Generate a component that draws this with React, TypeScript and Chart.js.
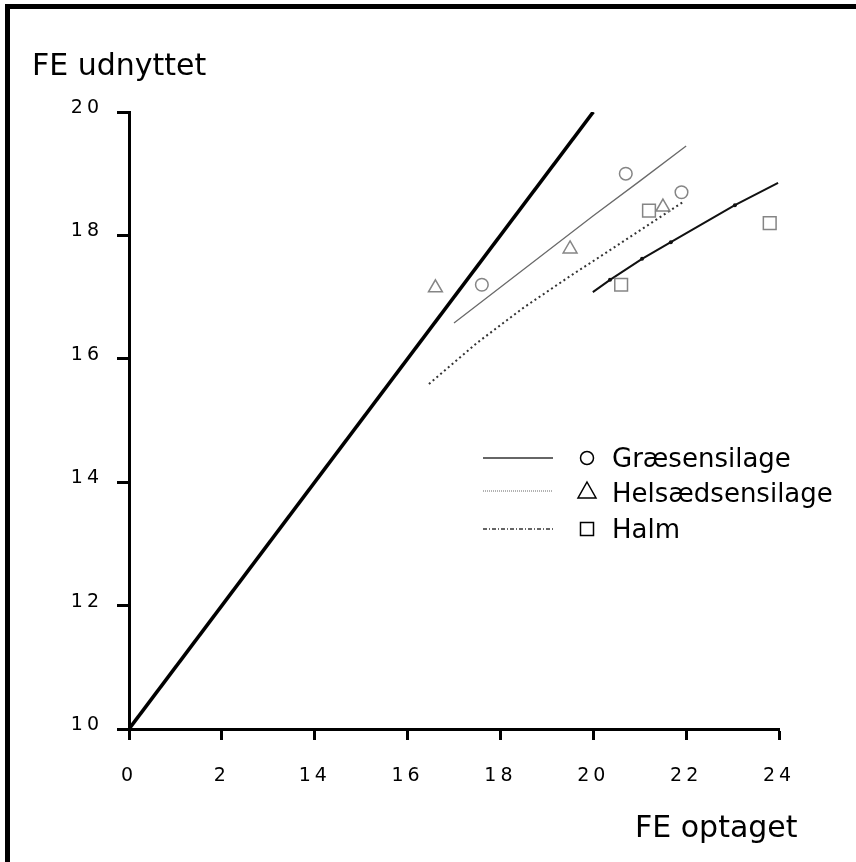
import React, { useEffect, useRef } from 'react';
import { Chart, registerables } from 'chart.js';

Chart.register(...registerables);

// ---- Data ----
const xTickValues = [10, 12, 14, 16, 18, 20, 22, 24];
const xTickLabels = ['0', '2', '14', '16', '18', '20', '22', '24'];
const yTickValues = [10, 12, 14, 16, 18, 20];
const yTickLabels = ['10', '12', '14', '16', '18', '20'];

const identityX = [10, 20];
const identityY = [10, 20];

const graesLineX = [17, 18, 19, 20, 21, 22];
const graesLineY = [16.58, 17.16, 17.74, 18.32, 18.88, 19.45];

const helsaedLineX = [16.46, 17.5, 18.5, 19.5, 20.5, 21.93];
const helsaedLineY = [15.59, 16.26, 16.83, 17.34, 17.83, 18.54];

const halmLineX = [19.99, 20.36, 21.05, 21.67, 23.05, 23.98];
const halmLineY = [17.08, 17.28, 17.62, 17.89, 18.49, 18.85];

const graesX = [17.6, 20.7, 21.9];
const graesY = [17.2, 19.0, 18.7];

const helsaedX = [16.6, 19.5, 21.5];
const helsaedY = [17.15, 17.78, 18.46];

const halmX = [20.6, 21.2, 23.8];
const halmY = [17.2, 18.4, 18.2];

const legendNames = ['Græsensilage', 'Helsædsensilage', 'Halm'];
const xTitle = 'FE optaget';
const yTitle = 'FE udnyttet';

const FONT = "'DejaVu Sans', sans-serif";

const pts = (xs: number[], ys: number[]) => xs.map((x, i) => ({ x, y: ys[i] }));

const spacingPlugin = {
  id: 'tickSpacing',
  beforeDraw(chart: any) {
    chart.ctx.letterSpacing = '4px';
  },
  beforeDatasetsDraw(chart: any) {
    chart.ctx.letterSpacing = '0px';
  },
};

const decorPlugin = {
  id: 'decor',
  afterDraw(chart: any) {
    const ctx: CanvasRenderingContext2D = chart.ctx;
    const area = chart.chartArea;
    ctx.save();
    (ctx as any).letterSpacing = '0px';
    // frame
    ctx.strokeStyle = '#000';
    ctx.lineWidth = 5;
    ctx.strokeRect(7.5, 6.5, 1000, 1000);

    // titles
    ctx.fillStyle = '#000';
    ctx.textBaseline = 'alphabetic';
    ctx.textAlign = 'left';
    ctx.font = `30px ${FONT}`;
    ctx.fillText(yTitle, 32, 75);
    ctx.fillText(xTitle, 635, 837);

    // legend
    const lx0 = area.left + 354;
    const lx1 = area.left + 424;
    const mx = area.left + 458;
    const tx = area.left + 483;
    const rows = [area.top + 346, area.top + 379, area.top + 417];
    const base = [area.top + 355, area.top + 390, area.top + 426];
    const dashes = [[], [1, 1], [4, 2, 1, 2]];
    const colors = ['#333', '#999', '#333'];
    rows.forEach((y, i) => {
      ctx.save();
      ctx.beginPath();
      ctx.setLineDash(dashes[i]);
      ctx.strokeStyle = colors[i];
      ctx.lineWidth = 1.5;
      ctx.moveTo(lx0, y);
      ctx.lineTo(lx1, y);
      ctx.stroke();
      ctx.restore();

      ctx.save();
      ctx.strokeStyle = '#000';
      ctx.lineWidth = 1.5;
      ctx.beginPath();
      if (i === 0) {
        ctx.arc(mx, y, 6.5, 0, Math.PI * 2);
      } else if (i === 1) {
        ctx.moveTo(mx, y - 9);
        ctx.lineTo(mx + 9, y + 7);
        ctx.lineTo(mx - 9, y + 7);
        ctx.closePath();
      } else {
        ctx.rect(mx - 6.5, y - 6.5, 13, 13);
      }
      ctx.stroke();
      ctx.restore();

      ctx.font = `26px ${FONT}`;
      ctx.fillStyle = '#000';
      ctx.fillText(legendNames[i], tx, base[i]);
    });
    ctx.restore();
  },
};

export default function App() {
  const ref = useRef<HTMLCanvasElement | null>(null);

  useEffect(() => {
    if (!ref.current) return;
    Chart.defaults.font.family = FONT;
    const markerColor = '#858585';
    const chart = new Chart(ref.current, {
      type: 'scatter',
      data: {
        datasets: [
          {
            label: 'Græsensilage',
            data: pts(graesX, graesY),
            pointStyle: 'circle',
            pointRadius: 6.3,
            borderColor: markerColor,
            backgroundColor: 'rgba(0,0,0,0)',
            borderWidth: 1.5,
            showLine: false,
          },
          {
            label: 'Helsædsensilage',
            data: pts(helsaedX, helsaedY),
            pointStyle: 'triangle',
            pointRadius: 8,
            borderColor: markerColor,
            backgroundColor: 'rgba(0,0,0,0)',
            borderWidth: 1.5,
            showLine: false,
          },
          {
            label: 'Halm',
            data: pts(halmX, halmY),
            pointStyle: 'rect',
            pointRadius: 9,
            borderColor: markerColor,
            backgroundColor: 'rgba(0,0,0,0)',
            borderWidth: 1.5,
            showLine: false,
          },
          {
            label: 'identity',
            data: pts(identityX, identityY),
            showLine: true,
            borderColor: '#000',
            borderWidth: 3.6,
            pointRadius: 0,
          },
          {
            label: 'graesLine',
            data: pts(graesLineX, graesLineY),
            showLine: true,
            borderColor: '#6a6a6a',
            borderWidth: 1.3,
            pointRadius: 0,
          },
          {
            label: 'helsaedLine',
            data: pts(helsaedLineX, helsaedLineY),
            showLine: true,
            borderColor: '#333',
            borderWidth: 2,
            borderDash: [2, 3],
            pointRadius: 0,
          },
          {
            label: 'halmLine',
            data: pts(halmLineX, halmLineY),
            showLine: true,
            borderColor: '#111',
            borderWidth: 2,
            pointRadius: (c: any) =>
              c.dataIndex === 0 || c.dataIndex === halmLineX.length - 1 ? 0 : 2,
            pointBackgroundColor: '#111',
            pointBorderWidth: 0,
          },
        ],
      },
      options: {
        animation: false,
        responsive: false,
        layout: { padding: { left: 0, top: 112, right: 77, bottom: 0 } },
        plugins: {
          legend: { display: false },
          tooltip: { enabled: false },
          title: { display: false },
        },
        scales: {
          x: {
            type: 'linear',
            min: 10,
            max: 24,
            afterBuildTicks: (s: any) => {
              s.ticks = xTickValues.map((v) => ({ value: v }));
            },
            afterFit: (s: any) => {
              s.height = 133;
            },
            ticks: {
              autoSkip: false,
              maxRotation: 0,
              padding: 25,
              color: '#000',
              font: { family: FONT, size: 19 },
              callback: (v: any) => {
                const i = xTickValues.indexOf(Number(v));
                return i >= 0 ? xTickLabels[i] : '';
              },
            },
            grid: {
              display: true,
              drawOnChartArea: false,
              drawTicks: true,
              tickLength: 11,
              tickWidth: 3,
              tickColor: '#000',
            },
            border: { display: true, width: 3, color: '#000' },
          },
          y: {
            type: 'linear',
            min: 10,
            max: 20,
            afterBuildTicks: (s: any) => {
              s.ticks = yTickValues.map((v) => ({ value: v }));
            },
            afterFit: (s: any) => {
              s.width = 129;
            },
            ticks: {
              autoSkip: false,
              padding: 14,
              labelOffset: -4,
              color: '#000',
              font: { family: FONT, size: 19 },
              callback: (v: any) => {
                const i = yTickValues.indexOf(Number(v));
                return i >= 0 ? yTickLabels[i] : '';
              },
            },
            grid: {
              display: true,
              drawOnChartArea: false,
              drawTicks: true,
              tickLength: 12,
              tickWidth: 3,
              tickColor: '#000',
            },
            border: { display: true, width: 3, color: '#000' },
          },
        },
      } as any,
      plugins: [spacingPlugin, decorPlugin],
    });
    return () => chart.destroy();
  }, []);

  return (
    <div style={{ position: 'fixed', left: 0, top: 0, width: 856, height: 862, background: '#fff' }}>
      <canvas ref={ref} width={856} height={862} style={{ display: 'block' }} />
    </div>
  );
}
